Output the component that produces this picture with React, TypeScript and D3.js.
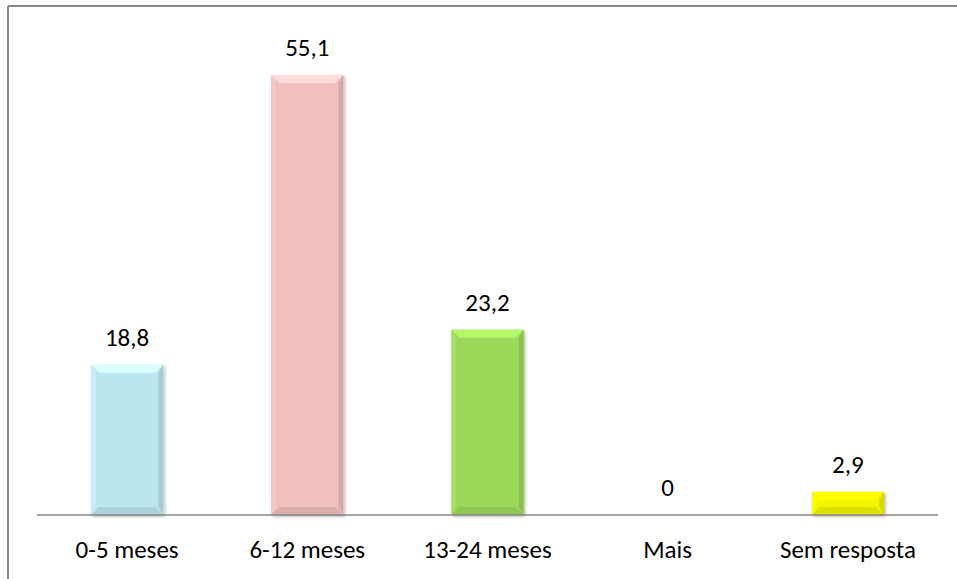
import React from "react";
import * as d3 from "d3";

const categories = ["0-5 meses", "6-12 meses", "13-24 meses", "Mais", "Sem resposta"];
const values = [18.8, 55.1, 23.2, 0, 2.9];
const valueLabels = ["18,8", "55,1", "23,2", "0", "2,9"];
const colors = ["#BCE6EF", "#F0BFBF", "#9CD95A", "#D8D8D8", "#F5F500"];

const W = 957;
const H = 579;
const baseline = 515;
const left = 37;
const right = 938;

export default function App() {
  const x = d3.scaleBand<string>().domain(categories).range([left, right]).paddingInner(0.6).paddingOuter(0.3);
  const y = d3.scaleLinear().domain([0, 55.1]).range([baseline, 75]);
  const bev = 8;
  const font = "Carlito, Calibri, Lato, 'Open Sans', sans-serif";
  const fs = 25;
  return (
    <svg width={W} height={H} style={{ position: "absolute", left: 0, top: 0 }}>
      <defs>
        <filter id="sh" x="-20%" y="-20%" width="140%" height="140%">
          <feDropShadow dx="1.5" dy="1.5" stdDeviation="1.5" floodColor="#000" floodOpacity="0.3" />
        </filter>
      </defs>
      <rect x={0} y={0} width={W} height={H} fill="#fff" />
      <line x1={8} y1={6} x2={W} y2={6} stroke="#878787" strokeWidth={2} />
      <line x1={8} y1={6} x2={8} y2={H} stroke="#878787" strokeWidth={2} />
      {categories.map((c, i) => {
        const x0 = x(c)!;
        const w = x.bandwidth();
        const y0 = y(values[i]);
        const h = baseline - y0;
        const col = colors[i];
        const b = Math.min(bev, h / 2, w / 2);
        return (
          <g key={c}>
            {h > 0 && (
              <g>
                <rect x={x0} y={y0} width={w} height={h} fill={col} filter="url(#sh)" />
                <polygon
                  points={`${x0},${y0} ${x0 + w},${y0} ${x0 + w - b},${y0 + b} ${x0 + b},${y0 + b}`}
                  fill={d3.color(col)!.brighter(0.4).toString()}
                />
                <polygon
                  points={`${x0},${y0} ${x0 + b * 0.6},${y0 + b} ${x0 + b * 0.6},${baseline - b} ${x0},${baseline}`}
                  fill={d3.color(col)!.brighter(0.1).toString()}
                />
                <polygon
                  points={`${x0 + w},${y0} ${x0 + w - b * 0.6},${y0 + b} ${x0 + w - b * 0.6},${baseline - b} ${x0 + w},${baseline}`}
                  fill={d3.color(col)!.darker(0.35).toString()}
                />
                <polygon
                  points={`${x0},${baseline} ${x0 + w},${baseline} ${x0 + w - b},${baseline - b} ${x0 + b},${baseline - b}`}
                  fill={d3.color(col)!.darker(0.25).toString()}
                />
              </g>
            )}
            <text x={x0 + w / 2} y={y0 - 19} textAnchor="middle" fontFamily={font} fontSize={fs} fill="#000">
              {valueLabels[i]}
            </text>
            <text x={x0 + w / 2} y={558} textAnchor="middle" fontFamily={font} fontSize={fs} fill="#000">
              {c}
            </text>
          </g>
        );
      })}
      <line x1={left} y1={baseline} x2={right} y2={baseline} stroke="#868686" strokeWidth={1.5} />
    </svg>
  );
}
